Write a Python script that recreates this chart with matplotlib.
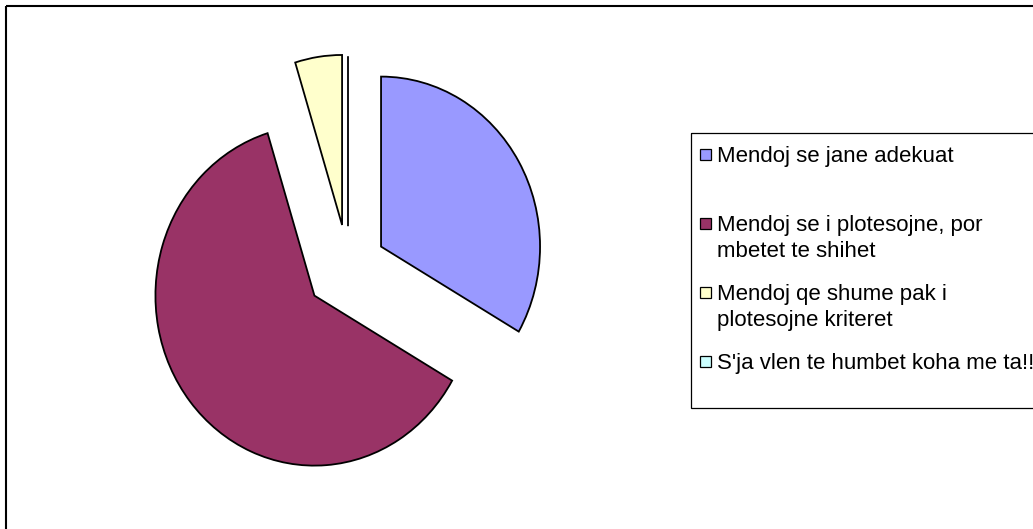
import matplotlib
matplotlib.use("Agg")
import matplotlib.pyplot as plt
from matplotlib.patches import Rectangle

# ---- data ----
categories = [
    "Mendoj se jane adekuat",
    "Mendoj se i plotesojne, por\nmbetet te shihet",
    "Mendoj qe shume pak i\nplotesojne kriteret",
    "S'ja vlen te humbet koha me ta!!",
]
values = [14, 26, 2, 0]
colors = ["#9999FF", "#993366", "#FFFFCC", "#CCFFFF"]
explode = [0.24, 0.27, 0.25, 0.24]

W, H = 1033, 529
fig = plt.figure(figsize=(W / 100, H / 100), dpi=100)
fig.patch.set_facecolor("white")

# ---- pie ----
ax = fig.add_axes([0, 0, 1, 1])
wedges, _ = ax.pie(values, explode=explode, colors=colors, startangle=90,
                   counterclock=False,
                   wedgeprops=dict(edgecolor="black", linewidth=1.3))
ax.set_aspect("auto")
cx, cy = 348, 267      # pie centre in pixels (from top-left)
rx, ry = 159, 170      # pie radii in pixels
ax.set_xlim(-cx / rx, (W - cx) / rx)
ax.set_ylim(-(H - cy) / ry, cy / ry)
ax.axis("off")

# ---- overlay in pixel coordinates ----
ov = fig.add_axes([0, 0, 1, 1])
ov.set_xlim(0, W)
ov.set_ylim(H, 0)
ov.axis("off")

# chart frame
ov.add_patch(Rectangle((6, 6), W + 20, H + 20, fill=False, ec="black",
                       lw=1.5, clip_on=False))

# legend box
ov.add_patch(Rectangle((691, 133), 400, 275, fill=False, ec="black",
                       lw=0.9, clip_on=False))

baselines = [162, 231, 300, 369]
line_gap = 26
for lab, col, b in zip(categories, colors, baselines):
    ov.add_patch(Rectangle((700, b - 13), 11, 11, fc=col, ec="black", lw=0.9))
    for k, line in enumerate(lab.split("\n")):
        ov.text(717, b + k * line_gap, line, fontsize=16,
                family="Liberation Sans", va="baseline", ha="left",
                color="black")

fig.savefig("out.png", dpi=100)
